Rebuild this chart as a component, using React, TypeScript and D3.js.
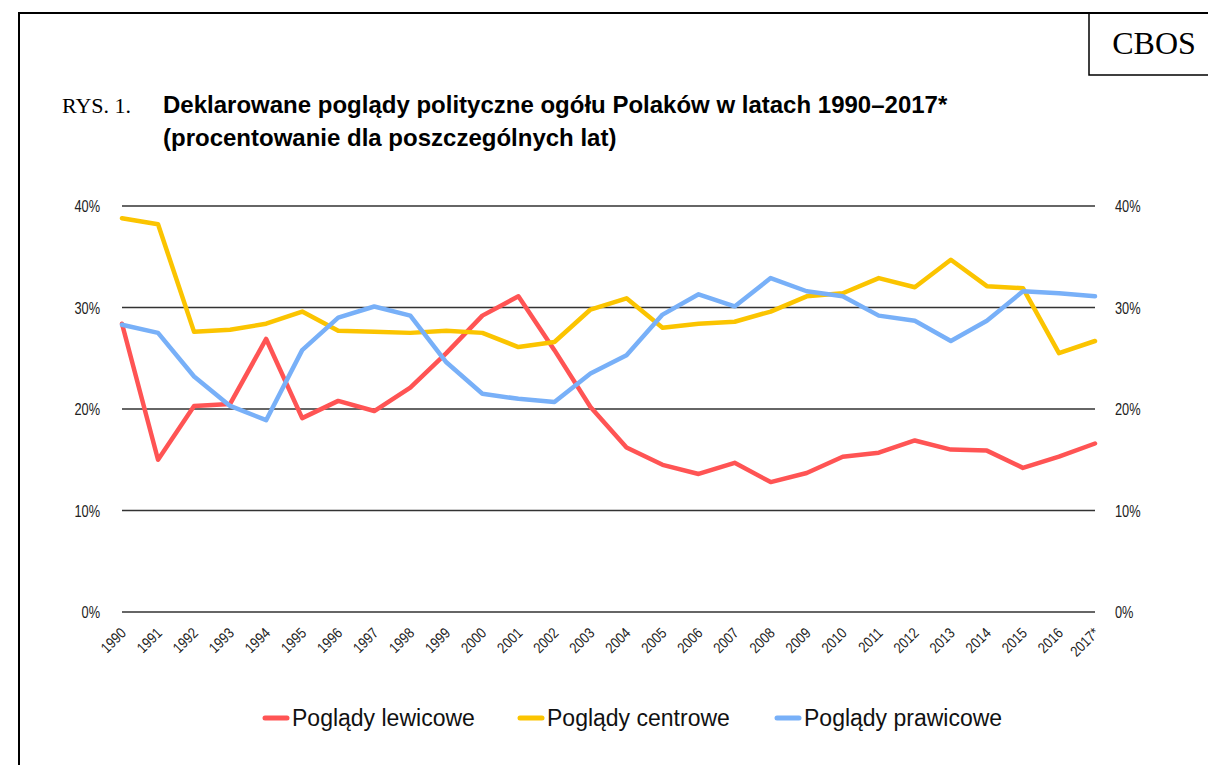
import React, { useEffect, useRef } from 'react';
import * as d3 from 'd3';

const years = [
  '1990', '1991', '1992', '1993', '1994', '1995', '1996', '1997', '1998', '1999',
  '2000', '2001', '2002', '2003', '2004', '2005', '2006', '2007', '2008', '2009',
  '2010', '2011', '2012', '2013', '2014', '2015', '2016', '2017*',
];
const lewicowe = [
  28.4, 15.0, 20.3, 20.5, 26.9, 19.1, 20.8, 19.8, 22.1, 25.5,
  29.2, 31.1, 25.8, 20.2, 16.2, 14.5, 13.6, 14.7, 12.8, 13.7,
  15.3, 15.7, 16.9, 16.0, 15.9, 14.2, 15.3, 16.6,
];
const centrowe = [
  38.8, 38.2, 27.6, 27.8, 28.4, 29.6, 27.7, 27.6, 27.5, 27.7,
  27.5, 26.1, 26.6, 29.8, 30.9, 28.0, 28.4, 28.6, 29.6, 31.1,
  31.4, 32.9, 32.0, 34.7, 32.1, 31.9, 25.5, 26.7,
];
const prawicowe = [
  28.3, 27.5, 23.2, 20.3, 18.9, 25.8, 29.0, 30.1, 29.2, 24.6,
  21.5, 21.0, 20.7, 23.5, 25.3, 29.3, 31.3, 30.1, 32.9, 31.6,
  31.1, 29.2, 28.7, 26.7, 28.7, 31.6, 31.4, 31.1,
];
const yTicks = [0, 10, 20, 30, 40];
const seriesNames = ['Poglądy lewicowe', 'Poglądy centrowe', 'Poglądy prawicowe'];
const seriesColors = ['#ff5454', '#fbc400', '#78b0f8'];

const sans = '"Liberation Sans", Arial, sans-serif';
const serif = '"Liberation Serif", "Times New Roman", serif';

export default function App() {
  const svgRef = useRef<SVGSVGElement>(null);

  useEffect(() => {
    if (!svgRef.current) return;
    const svg = d3.select(svgRef.current);
    svg.selectAll('*').remove();

    const x = d3.scalePoint<string>().domain(years).range([122, 1095]);
    const y = d3.scaleLinear().domain([0, 40]).range([612, 206]);

    // frame
    svg.append('path')
      .attr('d', 'M19,765 L19,13 L1208,13')
      .attr('fill', 'none')
      .attr('stroke', '#000')
      .attr('stroke-width', 2);
    svg.append('path')
      .attr('d', 'M1089,13 L1089,75 L1208,75')
      .attr('fill', 'none')
      .attr('stroke', '#000')
      .attr('stroke-width', 1.5);
    svg.append('text')
      .attr('x', 1154)
      .attr('y', 54)
      .attr('text-anchor', 'middle')
      .attr('font-family', serif)
      .attr('font-size', 32)
      .text('CBOS');

    // title
    svg.append('text')
      .attr('x', 62)
      .attr('y', 113)
      .attr('font-family', serif)
      .attr('font-size', 22)
      .text('RYS. 1.');
    const title = svg.append('text')
      .attr('font-family', sans)
      .attr('font-weight', 'bold')
      .attr('font-size', 24);
    title.append('tspan').attr('x', 163).attr('y', 113)
      .text('Deklarowane poglądy polityczne ogółu Polaków w latach 1990–2017*');
    title.append('tspan').attr('x', 163).attr('y', 146)
      .text('(procentowanie dla poszczególnych lat)');

    // grid
    svg.append('g')
      .selectAll('line')
      .data(yTicks)
      .join('line')
      .attr('x1', 122)
      .attr('x2', 1095)
      .attr('y1', d => y(d))
      .attr('y2', d => y(d))
      .attr('stroke', '#333')
      .attr('stroke-width', 1.5);

    // y labels (condensed look)
    const fmt = (d: number) => `${d}%`;
    svg.append('g')
      .selectAll('text')
      .data(yTicks)
      .join('text')
      .attr('transform', d => `translate(100,${y(d) + 6}) scale(0.8,1)`)
      .attr('text-anchor', 'end')
      .attr('font-family', sans)
      .attr('font-size', 16)
      .attr('fill', '#222')
      .text(fmt);
    svg.append('g')
      .selectAll('text')
      .data(yTicks)
      .join('text')
      .attr('transform', d => `translate(1115,${y(d) + 6}) scale(0.8,1)`)
      .attr('font-family', sans)
      .attr('font-size', 16)
      .attr('fill', '#222')
      .text(fmt);

    // x labels
    svg.append('g')
      .selectAll('text')
      .data(years)
      .join('text')
      .attr('transform', d => `translate(${x(d)! + 5},${634}) rotate(-45) scale(0.85,1)`)
      .attr('text-anchor', 'end')
      .attr('font-family', sans)
      .attr('font-size', 15)
      .attr('fill', '#222')
      .text(d => d);

    // lines
    const line = d3.line<number>()
      .x((_, i) => x(years[i])!)
      .y(d => y(d));
    [lewicowe, centrowe, prawicowe].forEach((s, i) => {
      svg.append('path')
        .datum(s)
        .attr('fill', 'none')
        .attr('stroke', seriesColors[i])
        .attr('stroke-width', 4.5)
        .attr('stroke-linejoin', 'round')
        .attr('stroke-linecap', 'round')
        .attr('d', line);
    });

    // legend
    const legendX = [265, 520, 777];
    const lg = svg.append('g');
    seriesNames.forEach((name, i) => {
      lg.append('line')
        .attr('x1', legendX[i])
        .attr('x2', legendX[i] + 22)
        .attr('y1', 718)
        .attr('y2', 718)
        .attr('stroke', seriesColors[i])
        .attr('stroke-width', 5)
        .attr('stroke-linecap', 'round');
      lg.append('text')
        .attr('x', legendX[i] + 27)
        .attr('y', 726)
        .attr('font-family', sans)
        .attr('font-size', 23)
        .attr('fill', '#111')
        .text(name);
    });
  }, []);

  return (
    <svg
      ref={svgRef}
      width={1208}
      height={765}
      style={{ position: 'absolute', left: 0, top: 0, background: '#fff' }}
    />
  );
}
